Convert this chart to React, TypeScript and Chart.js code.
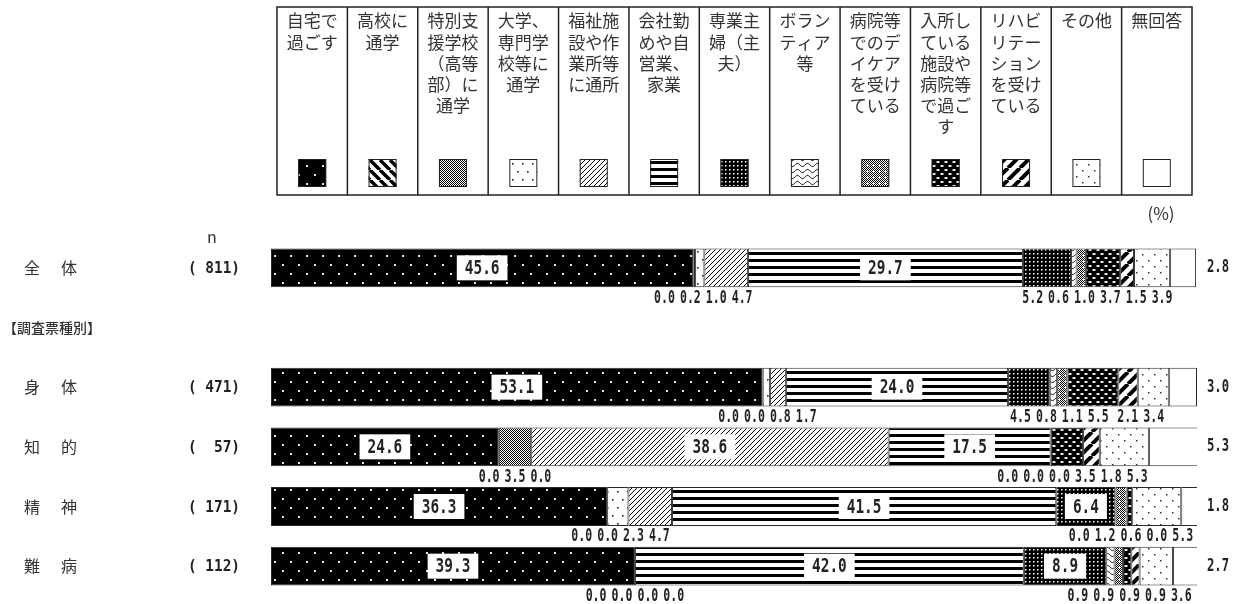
import React, { useEffect, useRef } from 'react';
import { Chart, registerables } from 'chart.js';

Chart.register(...registerables);

// ---- data ----
const categories = [
  '自宅で過ごす',
  '高校に通学',
  '特別支援学校（高等部）に通学',
  '大学、専門学校等に通学',
  '福祉施設や作業所等に通所',
  '会社勤めや自営業、家業',
  '専業主婦（主夫）',
  'ボランティア等',
  '病院等でのデイケアを受けている',
  '入所している施設や病院等で過ごす',
  'リハビリテーションを受けている',
  'その他',
  '無回答',
];

const legendLines = [
  ['自宅で', '過ごす'],
  ['高校に', '通学'],
  ['特別支', '援学校', '（高等', '部）に', '通学'],
  ['大学、', '専門学', '校等に', '通学'],
  ['福祉施', '設や作', '業所等', 'に通所'],
  ['会社勤', 'めや自', '営業、', '家業'],
  ['専業主', '婦（主', '夫）'],
  ['ボラン', 'ティア', '等'],
  ['病院等', 'でのデ', 'イケア', 'を受け', 'ている'],
  ['入所し', 'ている', '施設や', '病院等', 'で過ご', 'す'],
  ['リハビ', 'リテー', 'ション', 'を受け', 'ている'],
  ['その他'],
  ['無回答'],
];

const rowNames = ['全体', '身体', '知的', '精神', '難病'];
const rowN = [811, 471, 57, 171, 112];
const sectionHeader = '【調査票種別】';

const vZentai = [45.6, 0.0, 0.2, 1.0, 4.7, 29.7, 5.2, 0.6, 1.0, 3.7, 1.5, 3.9, 2.8];
const vShintai = [53.1, 0.0, 0.0, 0.8, 1.7, 24.0, 4.5, 0.8, 1.1, 5.5, 2.1, 3.4, 3.0];
const vChiteki = [24.6, 0.0, 3.5, 0.0, 38.6, 17.5, 0.0, 0.0, 0.0, 3.5, 1.8, 5.3, 5.3];
const vSeishin = [36.3, 0.0, 0.0, 2.3, 4.7, 41.5, 6.4, 0.0, 1.2, 0.6, 0.0, 5.3, 1.8];
const vNanbyo = [39.3, 0.0, 0.0, 0.0, 0.0, 42.0, 8.9, 0.9, 0.9, 0.9, 0.9, 3.6, 2.7];

const rowValues = [vZentai, vShintai, vChiteki, vSeishin, vNanbyo];

// chart rows: 全体, section header (empty), then the four groups
const chartLabels = [rowNames[0], sectionHeader, ...rowNames.slice(1)];
const rowIndexToChart = [0, 2, 3, 4, 5];

// ---- patterns ----
function makePatterns(): (CanvasPattern | string)[] {
  const mk = (w: number, h: number, fn: (g: CanvasRenderingContext2D) => void) => {
    const c = document.createElement('canvas');
    c.width = w;
    c.height = h;
    const g = c.getContext('2d')!;
    fn(g);
    return g.createPattern(c, 'repeat')!;
  };
  const diag = (g: CanvasRenderingContext2D, s: number, lw: number, dir: string) => {
    g.fillStyle = '#fff';
    g.fillRect(0, 0, s, s);
    g.strokeStyle = '#000';
    g.lineWidth = lw;
    g.beginPath();
    for (let k = -1; k <= 1; k++) {
      if (dir === '/') {
        g.moveTo(k * s, s);
        g.lineTo(k * s + s, 0);
      } else {
        g.moveTo(k * s, 0);
        g.lineTo(k * s + s, s);
      }
    }
    g.stroke();
  };
  return [
    // 自宅
    mk(16, 18, (g) => {
      g.fillStyle = '#000';
      g.fillRect(0, 0, 16, 18);
      g.fillStyle = '#e6e6e6';
      g.fillRect(2, 3, 2, 2);
      g.fillRect(10, 12, 2, 2);
    }),
    // 高校
    mk(10, 10, (g) => diag(g, 10, 3.5, '\\')),
    // 特別支援
    mk(2, 2, (g) => {
      g.fillStyle = '#fff';
      g.fillRect(0, 0, 2, 2);
      g.fillStyle = '#000';
      g.fillRect(0, 0, 1, 1);
      g.fillRect(1, 1, 1, 1);
    }),
    // 大学
    mk(10, 16, (g) => {
      g.fillStyle = '#fff';
      g.fillRect(0, 0, 10, 16);
      g.fillStyle = '#222';
      g.fillRect(2, 3, 1.6, 1.6);
      g.fillRect(7, 11, 1.6, 1.6);
    }),
    // 福祉
    mk(5, 5, (g) => diag(g, 5, 1, '/')),
    // 会社
    mk(4, 7, (g) => {
      g.fillStyle = '#fff';
      g.fillRect(0, 0, 4, 7);
      g.fillStyle = '#000';
      g.fillRect(0, 0, 4, 3);
    }),
    // 専業主婦
    mk(4, 4, (g) => {
      g.fillStyle = '#000';
      g.fillRect(0, 0, 4, 4);
      g.fillStyle = '#fff';
      g.fillRect(1, 1, 1.5, 1.5);
    }),
    // ボランティア
    mk(10, 6, (g) => {
      g.fillStyle = '#fff';
      g.fillRect(0, 0, 10, 6);
      g.strokeStyle = '#000';
      g.lineWidth = 1;
      g.beginPath();
      for (let x = 0; x <= 10; x += 0.5) {
        const y = 3 + 1.6 * Math.sin((2 * Math.PI * x) / 10);
        if (x === 0) g.moveTo(x, y);
        else g.lineTo(x, y);
      }
      g.stroke();
    }),
    // デイケア
    mk(6, 6, (g) => {
      g.fillStyle = '#fff';
      g.fillRect(0, 0, 6, 6);
      g.fillStyle = '#000';
      for (let y = 0; y < 6; y++)
        for (let x = 0; x < 6; x++) if ((x + y) % 2 === 0) g.fillRect(x, y, 1, 1);
      g.fillStyle = '#fff';
      g.fillRect(3, 2, 1, 1);
      g.fillRect(2, 3, 3, 1);
      g.fillRect(3, 4, 1, 1);
    }),
    // 入所
    mk(8, 8, (g) => {
      g.fillStyle = '#000';
      g.fillRect(0, 0, 8, 8);
      g.fillStyle = '#fff';
      g.beginPath();
      g.ellipse(2, 2, 1.8, 1.1, 0, 0, Math.PI * 2);
      g.ellipse(6, 6, 1.8, 1.1, 0, 0, Math.PI * 2);
      g.fill();
    }),
    // リハビリ
    mk(12, 12, (g) => diag(g, 12, 4, '/')),
    // その他
    mk(12, 12, (g) => {
      g.fillStyle = '#fff';
      g.fillRect(0, 0, 12, 12);
      g.fillStyle = '#333';
      g.fillRect(2, 2, 1.5, 1.5);
      g.fillRect(8, 8, 1.5, 1.5);
    }),
    // 無回答
    '#ffffff',
  ];
}

// ---- helpers ----
const MONO = '"DejaVu Sans Mono", "Liberation Mono", monospace';
const JP = '"Noto Sans CJK JP", "Noto Sans", sans-serif';

function measureCond(ctx: CanvasRenderingContext2D, text: string, size: number, sx: number) {
  ctx.save();
  ctx.font = `bold ${size}px ${MONO}`;
  const w = ctx.measureText(text).width * sx;
  ctx.restore();
  return w;
}

function drawCond(
  ctx: CanvasRenderingContext2D,
  text: string,
  left: number,
  y: number,
  size: number,
  sx: number,
) {
  ctx.save();
  ctx.font = `bold ${size}px ${MONO}`;
  ctx.textAlign = 'left';
  ctx.textBaseline = 'middle';
  ctx.fillStyle = '#222';
  ctx.translate(left, y);
  ctx.scale(sx, 1);
  ctx.fillText(text, 0, 0);
  ctx.restore();
}

function spreadLabels(items: { c: number; w: number }[], gap: number, maxR: number): number[] {
  type Cl = { i0: number; i1: number; left: number; width: number };
  const recompute = (cl: Cl) => {
    let W = 0;
    let sc = 0;
    for (let i = cl.i0; i <= cl.i1; i++) {
      W += items[i].w;
      sc += items[i].c;
    }
    W += gap * (cl.i1 - cl.i0);
    cl.width = W;
    cl.left = sc / (cl.i1 - cl.i0 + 1) - W / 2;
  };
  const cls: Cl[] = items.map((it, i) => ({ i0: i, i1: i, left: it.c - it.w / 2, width: it.w }));
  let changed = true;
  while (changed) {
    changed = false;
    for (const cl of cls) if (cl.left + cl.width > maxR) cl.left = maxR - cl.width;
    for (let j = 0; j < cls.length - 1; j++) {
      const a = cls[j];
      const b = cls[j + 1];
      if (a.left + a.width + gap > b.left) {
        const m: Cl = { i0: a.i0, i1: b.i1, left: 0, width: 0 };
        recompute(m);
        cls.splice(j, 2, m);
        changed = true;
        break;
      }
    }
  }
  const out: number[] = [];
  for (const cl of cls) {
    let x = cl.left;
    for (let i = cl.i0; i <= cl.i1; i++) {
      out[i] = x;
      x += items[i].w + gap;
    }
  }
  return out;
}

export default function App() {
  const ref = useRef<HTMLCanvasElement>(null);

  useEffect(() => {
    const canvas = ref.current!;
    const patterns = makePatterns();

    const datasets = categories.map((name, ci) => {
      const data: (number | null)[] = chartLabels.map(() => null);
      rowValues.forEach((vals, r) => {
        data[rowIndexToChart[r]] = vals[ci];
      });
      return {
        label: name,
        data,
        backgroundColor: patterns[ci] as any,
        borderColor: '#2a2a2a',
        borderWidth: 1,
        borderSkipped: false as const,
        barPercentage: 0.65,
        categoryPercentage: 1,
      };
    });

    const overlay = {
      id: 'overlay',
      afterDraw(chart: any) {
        const ctx: CanvasRenderingContext2D = chart.ctx;
        const xs = chart.scales.x;
        const ys = chart.scales.y;
        const area = chart.chartArea;

        // legend table
        const L = 277, R = 1192, T = 7, B = 195;
        const colW = (R - L) / categories.length;
        ctx.save();
        ctx.strokeStyle = '#222';
        ctx.lineWidth = 1.5;
        ctx.strokeRect(L, T, R - L, B - T);
        for (let i = 1; i < categories.length; i++) {
          ctx.beginPath();
          ctx.moveTo(L + colW * i, T);
          ctx.lineTo(L + colW * i, B);
          ctx.stroke();
        }
        ctx.fillStyle = '#333';
        ctx.font = `17px ${JP}`;
        ctx.textAlign = 'center';
        ctx.textBaseline = 'middle';
        legendLines.forEach((lines, i) => {
          const cx = L + colW * (i + 0.5);
          lines.forEach((ln, k) => ctx.fillText(ln, cx, 21 + 21.2 * k));
          ctx.fillStyle = patterns[i] as any;
          ctx.fillRect(cx - 14, 159, 28, 28);
          ctx.lineWidth = 1;
          ctx.strokeStyle = '#222';
          ctx.strokeRect(cx - 14 + 0.5, 159.5, 27, 27);
          ctx.fillStyle = '#333';
        });
        ctx.font = `17px ${JP}`;
        ctx.fillText('(%)', 1161, 214);
        ctx.font = `16px ${JP}`;
        ctx.fillText('n', 212, 237);
        // section header
        ctx.textAlign = 'left';
        ctx.font = `500 14px ${JP}`;
        ctx.fillText(sectionHeader, 3, ys.getPixelForValue(1));
        ctx.restore();

        // rows
        rowValues.forEach((vals, r) => {
          const idx = rowIndexToChart[r];
          const yc = ys.getPixelForValue(idx);
          const el = chart.getDatasetMeta(0).data[idx];
          const h = el ? el.height : 38;
          const bottom = yc + h / 2;

          // row names
          ctx.save();
          ctx.fillStyle = '#333';
          ctx.font = `16px ${JP}`;
          ctx.textAlign = 'left';
          ctx.textBaseline = 'middle';
          const chars = Array.from(rowNames[r]);
          ctx.fillText(chars[0], 24, yc);
          ctx.fillText(chars[1], 61, yc);
          ctx.restore();
          const nTxt = '(' + String(rowN[r]).padStart(4, ' ') + ')';
          drawCond(ctx, nTxt, 188, yc + 1, 16, 0.9);

          // segments
          let cum = 0;
          const below: { c: number; w: number; t: string }[] = [];
          vals.forEach((v, ci) => {
            const x0 = xs.getPixelForValue(cum);
            cum += v;
            const x1 = xs.getPixelForValue(cum);
            const t = v.toFixed(1);
            if (ci === vals.length - 1) {
              drawCond(ctx, t, 1207, yc, 17, 0.72);
            } else if (v >= 6) {
              const w = measureCond(ctx, t, 20, 0.72);
              const bw = w + 16;
              const cx = (x0 + x1) / 2;
              ctx.save();
              ctx.fillStyle = '#fff';
              ctx.fillRect(cx - bw / 2, yc - 12.5, bw, 25);
              ctx.restore();
              drawCond(ctx, t, cx - w / 2, yc + 1, 20, 0.72);
            } else {
              below.push({ c: (x0 + x1) / 2, w: measureCond(ctx, t, 17, 0.68), t });
            }
          });
          const lefts = spreadLabels(below, 5, area.right - 2);
          below.forEach((b, i) => drawCond(ctx, b.t, lefts[i], bottom + 11, 17, 0.68));
        });
      },
    };

    const chart = new Chart(canvas, {
      type: 'bar',
      data: { labels: chartLabels, datasets: datasets as any },
      options: {
        indexAxis: 'y',
        responsive: false,
        animation: false,
        events: [],
        layout: { padding: { left: 271, right: 47, top: 238, bottom: 8 } },
        scales: {
          x: { stacked: true, min: 0, max: 100, display: false },
          y: { stacked: true, display: false },
        },
        plugins: { legend: { display: false }, tooltip: { enabled: false } },
      },
      plugins: [overlay],
    });
    return () => chart.destroy();
  }, []);

  return (
    <div style={{ position: 'fixed', left: 0, top: 0, width: 1244, height: 604, background: '#fff' }}>
      <canvas ref={ref} width={1244} height={604} style={{ display: 'block' }} />
    </div>
  );
}
